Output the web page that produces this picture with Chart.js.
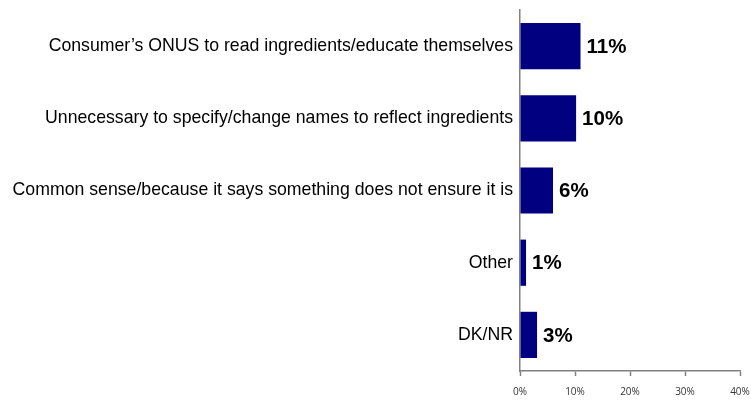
<!DOCTYPE html>
<html>
<head>
<meta charset="utf-8">
<script src="https://cdn.jsdelivr.net/npm/chart.js@4"></script>
<style>
  html, body { margin: 0; padding: 0; background: #fff; }
  #c { display: block; }
</style>
</head>
<body>
<canvas id="c" width="751" height="400"></canvas>
<script>
const categories = [
  "Consumer\u2019s ONUS to read ingredients/educate themselves",
  "Unnecessary to specify/change names to reflect ingredients",
  "Common sense/because it says something does not ensure it is",
  "Other",
  "DK/NR"
];
const values = [11, 10.2, 6, 1.1, 3.1];
const valueLabels = ["11%", "10%", "6%", "1%", "3%"];
const xTickValues = [0, 10, 20, 30, 40];

const valueLabelPlugin = {
  id: 'valueLabels',
  afterDatasetsDraw(chart) {
    const ctx = chart.ctx;
    const meta = chart.getDatasetMeta(0);
    ctx.save();
    ctx.font = 'bold 20.5px "Liberation Sans", Arial, sans-serif';
    ctx.fillStyle = '#000';
    ctx.textAlign = 'left';
    ctx.textBaseline = 'middle';
    meta.data.forEach((bar, i) => {
      ctx.fillText(valueLabels[i], bar.x + 6, bar.y + 1);
    });
    ctx.restore();
  }
};

new Chart(document.getElementById('c'), {
  type: 'bar',
  data: {
    labels: categories,
    datasets: [{
      data: values,
      backgroundColor: '#000080',
      borderWidth: 0,
      barPercentage: 0.64,
      categoryPercentage: 1.0
    }]
  },
  options: {
    indexAxis: 'y',
    responsive: false,
    animation: false,
    layout: { padding: { top: 10, right: 11, left: 0, bottom: 0 } },
    plugins: {
      legend: { display: false },
      tooltip: { enabled: false }
    },
    scales: {
      x: {
        min: 0,
        max: 40,
        afterBuildTicks(scale) {
          scale.ticks = xTickValues.map(v => ({ value: v }));
        },
        afterFit(scale) {
          scale.height = 29;
          scale.paddingLeft = 0;
          scale.paddingRight = 0;
        },
        ticks: {
          callback: v => v + '%',
          font: { family: '"Open Sans", sans-serif', size: 10 },
          color: '#333',
          padding: 10,
          maxRotation: 0,
          autoSkip: false
        },
        grid: {
          drawOnChartArea: false,
          drawTicks: true,
          tickLength: 5,
          tickColor: '#808080',
          tickWidth: 1.5
        },
        border: { display: true, color: '#808080', width: 1.5 }
      },
      y: {
        afterFit(scale) {
          scale.width = 520;
          scale.paddingTop = 0;
          scale.paddingBottom = 0;
        },
        ticks: {
          font: { family: '"Liberation Sans", Arial, sans-serif', size: 17.7 },
          color: '#000',
          padding: 7,
          autoSkip: false
        },
        grid: { drawOnChartArea: false, drawTicks: false },
        border: { display: true, color: '#808080', width: 1.5 }
      }
    }
  },
  plugins: [valueLabelPlugin]
});
</script>
</body>
</html>
